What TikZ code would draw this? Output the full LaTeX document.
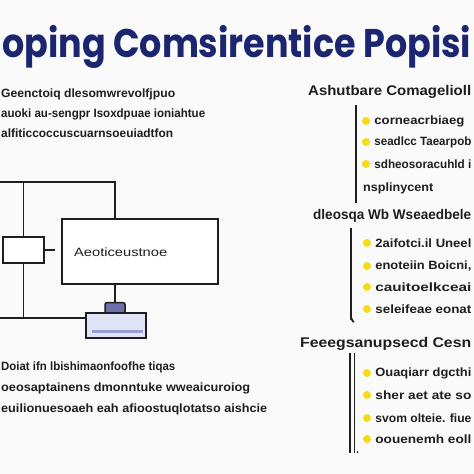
\documentclass[tikz,border=0pt]{standalone}
\usepackage{fontspec}
\setmainfont{Liberation Sans}
\newfontfamily\titlefont{Poppins}
\usepackage{graphicx}
\usepackage{tikz}
\usetikzlibrary{positioning}

\definecolor{titleblue}{RGB}{28,38,112}
\definecolor{inktext}{RGB}{30,30,30}
\definecolor{dotyellow}{RGB}{246,220,20}
\definecolor{devfill}{RGB}{224,228,246}
\definecolor{devbar}{RGB}{150,160,215}
\definecolor{tabfill}{RGB}{110,110,170}
\definecolor{paper}{RGB}{250,250,250}

% stretch a line of text to a given width, keep its height
\newcommand{\fitline}[2]{\resizebox{#1}{\height}{#2}}

\begin{document}
\begin{tikzpicture}[
    x=1pt, y=-1pt,
    txt/.style={anchor=base west, inner sep=0pt, text=inktext, font=\bfseries\fontsize{12}{12}\selectfont},
    head/.style={txt, font=\bfseries\fontsize{14}{14}\selectfont},
    item/.style={txt, right=4pt of #1, anchor=west, yshift=-0.5pt},
    blk/.style={rectangle, draw=inktext, line width=1.8pt, fill=white, inner sep=0pt},
    wire/.style={draw=inktext, line width=1.6pt},
    dot/.style={circle, fill=dotyellow, inner sep=0pt, minimum size=8pt},
    bar/.style={draw=inktext, line width=1.8pt}
]
    \useasboundingbox (0,0) rectangle (474,474);
    \clip (0,0) rectangle (474,474);
    \fill[paper] (0,0) rectangle (474,474);

    % title
    \node[anchor=base west, inner sep=0pt, text=titleblue, font=\titlefont\bfseries\fontsize{40}{40}\selectfont] (title) at (2,57)
        {\fitline{469pt}{oping Comsirentice Popisi}};

    % left text, top
    \node[txt] (topa) at (1,97)  {\fitline{174pt}{Geenctoiq dlesomwrevolfjpuo}};
    \node[txt] (topb) at (1,117) {\fitline{204pt}{auoki au-sengpr Isoxdpuae ioniahtue}};
    \node[txt] (topc) at (1,137) {\fitline{172pt}{alfiticcoccuscuarnsoeuiadtfon}};

    % left diagram
    \node[blk, minimum width=156pt, minimum height=65pt] (mainbox) at (140,251.5) {};
    \node[anchor=base west, inner sep=0pt, text=inktext, font=\fontsize{12}{12}\selectfont] (mainlabel) at (74,256)
        {\fitline{93pt}{Aeoticeustnoe}};
    \node[blk, minimum width=41pt, minimum height=26pt] (ctrl) at (23.5,250) {};
    \node[rectangle, draw=inktext, line width=1.5pt, fill=tabfill, rounded corners=2pt, minimum width=20pt, minimum height=11pt, inner sep=0pt] (tab) at (115,308) {};
    \node[rectangle, draw=inktext, line width=1.6pt, fill=devfill, minimum width=60pt, minimum height=25pt, inner sep=0pt] (device) at (116,325.5) {};
    \draw[devbar, line width=2.5pt] ([xshift=7pt,yshift=-6pt]device.west) -- ([xshift=-4pt,yshift=-6pt]device.east);

    \coordinate (topleft) at (0,182);
    \coordinate (botleft) at (0,318);
    \coordinate (feedin) at (115,219);
    \coordinate (stub) at (55,250);

    \draw[wire] (topleft) -| (feedin);
    \draw[wire] (ctrl.north) -- (ctrl.north |- topleft);
    \draw[wire] (ctrl.south) -- (ctrl.south |- botleft);
    \draw[wire] (botleft) -- (botleft -| device.west);
    \draw[wire] (tab.north) -- (tab.north |- mainbox.south);
    \draw[inktext, line width=1.2pt] (ctrl.east) -- (stub);

    % left text, bottom
    \node[txt] (bota) at (1,370) {\fitline{174pt}{Doiat ifn lbishimaonfoofhe tiqas}};
    \node[txt] (botb) at (1,391) {\fitline{249pt}{oeosaptainens dmonntuke wweaicuroiog}};
    \node[txt] (botc) at (1,412) {\fitline{266pt}{euilionuesoaeh eah afioostuqlotatso aishcie}};

    % right column, first group
    \node[head] (heada) at (308,95) {\fitline{163pt}{Ashutbare Comagelioll}};
    \draw[bar] (356,105) -- (356,203);
    \node[dot] (da1) at (366,121) {};
    \node[dot] (da2) at (366,142) {};
    \node[dot] (da3) at (366,164) {};
    \node[item=da1] (ia1) {\fitline{90pt}{corneacrbiaeg}};
    \node[item=da2] (ia2) {\fitline{97pt}{seadlcc Taearpob}};
    \node[item=da3] (ia3) {\fitline{97pt}{sdheosoracuhld i}};
    \node[txt] (ia4) at (363,191) {\fitline{70pt}{nsplinycent}};

    % right column, second group
    \node[head] (headb) at (313,219) {\fitline{158pt}{dleosqa Wb Wseaedbele}};
    \draw[bar] (351,228) -- (351,318) to[out=90,in=180] (354,322);
    \node[dot] (db1) at (367,243) {};
    \node[dot] (db2) at (367,266) {};
    \node[dot] (db3) at (367,287) {};
    \node[dot] (db4) at (367,309) {};
    \node[item=db1] (ib1) {\fitline{96pt}{2aifotci.il Uneel}};
    \node[item=db2] (ib2) {\fitline{96pt}{enoteiin Boicni,}};
    \node[item=db3] (ib3) {\fitline{96pt}{cauitoelkceai}};
    \node[item=db4] (ib4) {\fitline{96pt}{seleifeae eonat}};

    % right column, third group
    \node[head] (headc) at (300,347) {\fitline{171pt}{Feeegsanupsecd Cesn}};
    \draw[bar] (350,353) -- (350,453);
    \draw[bar] (354.5,353) -- (354.5,453);
    \fill[inktext] (357.5,452) circle (1pt);
    \node[dot] (dc1) at (367,373) {};
    \node[dot] (dc2) at (367,395) {};
    \node[dot] (dc3) at (367,418) {};
    \node[dot] (dc4) at (367,439) {};
    \node[item=dc1] (ic1) {\fitline{96pt}{Ouaqiarr dgcthi}};
    \node[item=dc2] (ic2) {\fitline{96pt}{sher aet ate so}};
    \node[item=dc3] (ic3) {\fitline{96pt}{svom olteie. fiue}};
    \node[item=dc4] (ic4) {\fitline{96pt}{oouenemh eoll}};
\end{tikzpicture}
\end{document}
